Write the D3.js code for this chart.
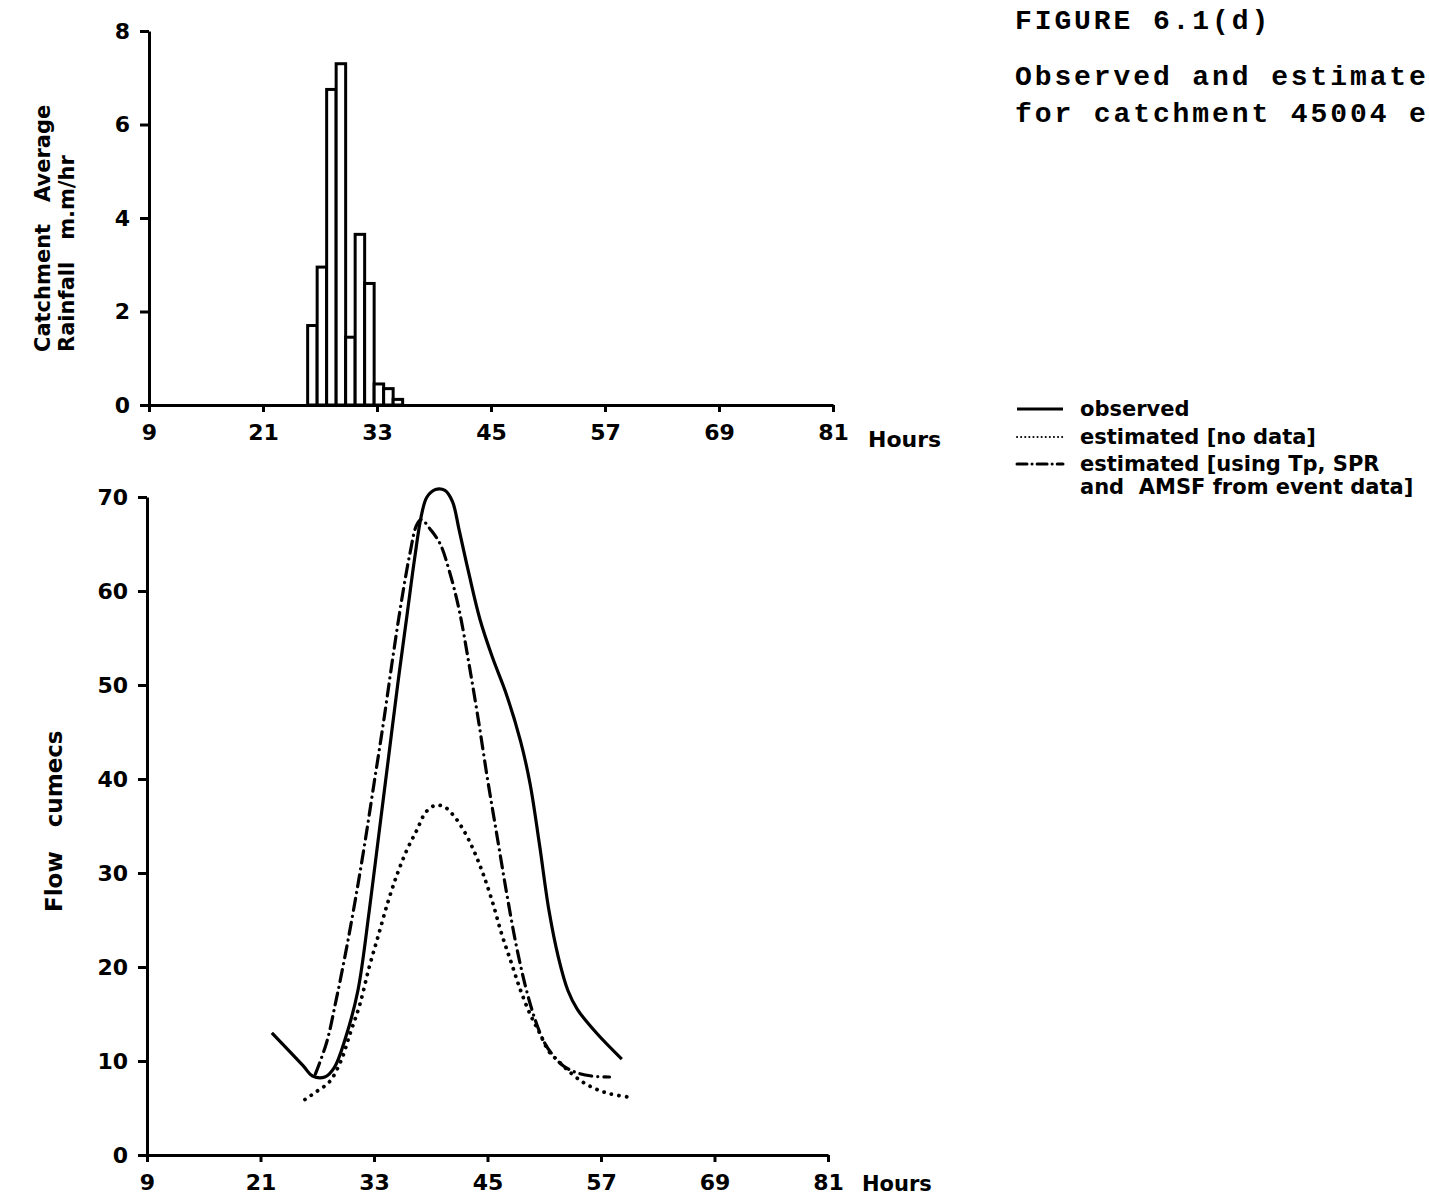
<!DOCTYPE html>
<html>
<head>
<meta charset="utf-8">
<script src="https://cdn.jsdelivr.net/npm/d3@7"></script>
<style>
  html, body { margin: 0; padding: 0; background: #fff; }
  svg { display: block; }
  .sans { font-family: "DejaVu Sans", sans-serif; font-weight: bold; }
  .mono { font-family: "Liberation Mono", "DejaVu Sans Mono", monospace; font-weight: bold; }
</style>
</head>
<body>
<svg id="chart" width="1429" height="1199"></svg>
<script>
// ---------- DATA ----------
const hourTicks = [9, 21, 33, 45, 57, 69, 81];
const rainTicks = [0, 2, 4, 6, 8];
const flowTicks = [0, 10, 20, 30, 40, 50, 60, 70];

// hourly rainfall bars: start hour of each 1-hour interval, and mm/hr
const rainStart = [25.7, 26.7, 27.7, 28.7, 29.7, 30.7, 31.7, 32.7, 33.7, 34.7];
const rainValue = [1.7, 2.95, 6.75, 7.3, 1.45, 3.65, 2.6, 0.45, 0.35, 0.12];

// observed flow (hours, cumecs)
const obsHours = [22.2, 25.5, 26.5, 27.8, 28.8, 30, 31.3, 32.5, 33.5, 34.5, 35.5, 36.5, 37.3, 38, 38.6, 39.5, 40.5, 41.3, 42, 43, 44.2, 45.5, 47, 48.5, 49.5, 50.5, 51.5, 52.5, 53.5, 54.5, 56.5, 59.2];
const obsFlow  = [13, 9.5, 8.4, 8.3, 9.3, 12.5, 17.5, 26, 34, 42, 50, 57.5, 63.5, 68, 70, 70.8, 70.7, 69.5, 66.5, 62, 57, 53, 49, 44, 39.5, 33, 26, 21, 17.5, 15.5, 13, 10.2];

// estimated (no data)
const estHours = [25.7, 27, 28.3, 29.5, 30.5, 31.5, 32.5, 33.5, 34.5, 35.5, 36.5, 37.5, 38.5, 39.5, 40.5, 41.5, 42.5, 43.5, 44.5, 45.5, 46.5, 47.5, 48.5, 49.5, 50.5, 51.5, 52.5, 53.5, 55, 56.5, 58, 60.4];
const estFlow  = [5.9, 6.8, 7.8, 10, 13, 16, 20, 23.5, 27, 30, 32.5, 34.5, 36.5, 37.2, 37, 36, 34.5, 32.5, 30, 27, 23.5, 20.5, 17.5, 15, 13, 11, 10, 9, 7.8, 7, 6.5, 6.1];

// estimated (using Tp, SPR and AMSF from event data)
const evtHours = [26.8, 28, 29, 30, 31, 32, 33, 34, 35, 36, 36.8, 37.5, 38, 39, 40, 41, 42, 43, 44, 45, 46, 47, 48, 49, 50, 51, 52, 53, 54.3, 56, 57.9];
const evtFlow  = [8.6, 12, 16.5, 21.5, 27, 33, 39.5, 46, 53, 59.5, 64, 67, 67.6, 66.5, 65, 62, 58, 52.5, 46.5, 40, 34, 28, 22.5, 18, 14.5, 12, 10.5, 9.5, 8.8, 8.4, 8.3];

const legendLabels = ["observed", "estimated [no data]", "estimated [using Tp, SPR", "and  AMSF from event data]"];
const titleLines = ["FIGURE 6.1(d)", "Observed and estimate", "for catchment 45004 e"];

// ---------- DRAW ----------
const svg = d3.select("#chart");

// ---- top panel: rainfall ----
const xTop = d3.scaleLinear().domain([9, 81]).range([149, 833]);
const yTop = d3.scaleLinear().domain([0, 8]).range([405, 31]);

const gTop = svg.append("g");
const rain = rainStart.map((s, i) => ({ s, v: rainValue[i] }));
gTop.selectAll("rect.bar").data(rain).enter().append("rect")
  .attr("class", "bar")
  .attr("x", d => xTop(d.s))
  .attr("width", d => xTop(d.s + 1) - xTop(d.s))
  .attr("y", d => yTop(d.v))
  .attr("height", d => yTop(0) - yTop(d.v))
  .attr("fill", "#fff")
  .attr("stroke", "#000")
  .attr("stroke-width", 3);

function styleAxis(g) {
  g.select(".domain").attr("stroke", "#000").attr("stroke-width", 3);
  g.selectAll(".tick line").attr("stroke", "#000").attr("stroke-width", 3);
  g.selectAll(".tick text").attr("class", "sans").attr("font-size", 22).attr("fill", "#000");
}

const axTopX = gTop.append("g").attr("transform", `translate(0,${yTop(0)})`)
  .call(d3.axisBottom(xTop).tickValues(hourTicks).tickSize(7).tickSizeOuter(0).tickPadding(12).tickFormat(d3.format("d")));
styleAxis(axTopX);
const axTopY = gTop.append("g").attr("transform", `translate(${xTop(9)},0)`)
  .call(d3.axisLeft(yTop).tickValues(rainTicks).tickSize(9).tickSizeOuter(0).tickPadding(10).tickFormat(d3.format("d")));
styleAxis(axTopY);

gTop.append("text").attr("class", "sans").attr("font-size", 22)
  .attr("x", 868).attr("y", 447).text("Hours");

gTop.append("text").attr("class", "sans").attr("font-size", 21)
  .attr("transform", "translate(50,352) rotate(-90)")
  .attr("xml:space", "preserve")
  .text("Catchment   Average");
gTop.append("text").attr("class", "sans").attr("font-size", 21)
  .attr("transform", "translate(74,352) rotate(-90)")
  .attr("xml:space", "preserve")
  .text("Rainfall   m.m/hr");

// ---- bottom panel: flow ----
const xBot = d3.scaleLinear().domain([9, 81]).range([147, 828]);
const yBot = d3.scaleLinear().domain([0, 70]).range([1155, 497]);

const gBot = svg.append("g");
const axBotX = gBot.append("g").attr("transform", `translate(0,${yBot(0)})`)
  .call(d3.axisBottom(xBot).tickValues(hourTicks).tickSize(7).tickSizeOuter(0).tickPadding(12).tickFormat(d3.format("d")));
styleAxis(axBotX);
const axBotY = gBot.append("g").attr("transform", `translate(${xBot(9)},0)`)
  .call(d3.axisLeft(yBot).tickValues(flowTicks).tickSize(9).tickSizeOuter(0).tickPadding(10).tickFormat(d3.format("d")));
styleAxis(axBotY);

gBot.append("text").attr("class", "sans").attr("font-size", 21)
  .attr("x", 862).attr("y", 1191).text("Hours");
gBot.append("text").attr("class", "sans").attr("font-size", 23)
  .attr("transform", "translate(62,912) rotate(-90)")
  .attr("xml:space", "preserve")
  .text("Flow   cumecs");

const line = d3.line().x(d => xBot(d[0])).y(d => yBot(d[1])).curve(d3.curveCatmullRom.alpha(0.5));

const obs = obsHours.map((h, i) => [h, obsFlow[i]]);
const est = estHours.map((h, i) => [h, estFlow[i]]);
const evt = evtHours.map((h, i) => [h, evtFlow[i]]);

gBot.append("path").datum(obs).attr("d", line)
  .attr("fill", "none").attr("stroke", "#000").attr("stroke-width", 3.2);
gBot.append("path").datum(est).attr("d", line)
  .attr("fill", "none").attr("stroke", "#000").attr("stroke-width", 3.8)
  .attr("stroke-linecap", "round").attr("stroke-dasharray", "0.1 7.5");
gBot.append("path").datum(evt).attr("d", line)
  .attr("fill", "none").attr("stroke", "#000").attr("stroke-width", 3.2)
  .attr("stroke-linecap", "round").attr("stroke-dasharray", "12 6 0.1 6");

// ---- legend ----
const gLeg = svg.append("g");
const legStyles = [
  { dash: null, w: 3 },
  { dash: "0.1 4", w: 2, cap: "round" },
  { dash: "10 5 0.1 5", w: 3, cap: "round" }
];
const legY = [409, 437, 464];
legStyles.forEach((s, i) => {
  const l = gLeg.append("line")
    .attr("x1", 1017).attr("x2", 1063).attr("y1", legY[i]).attr("y2", legY[i])
    .attr("stroke", "#000").attr("stroke-width", s.w);
  if (s.dash) l.attr("stroke-dasharray", s.dash).attr("stroke-linecap", s.cap);
});
const legTextY = [416, 444, 471, 494];
legendLabels.forEach((t, i) => {
  gLeg.append("text").attr("class", "sans").attr("font-size", 21)
    .attr("xml:space", "preserve")
    .attr("x", 1080).attr("y", legTextY[i]).text(t);
});

// ---- title ----
const titleY = [29, 85, 122];
titleLines.forEach((t, i) => {
  svg.append("text").attr("class", "mono").attr("font-size", 28)
    .attr("letter-spacing", 2.9)
    .attr("xml:space", "preserve")
    .attr("x", 1015).attr("y", titleY[i]).text(t);
});
</script>
</body>
</html>
